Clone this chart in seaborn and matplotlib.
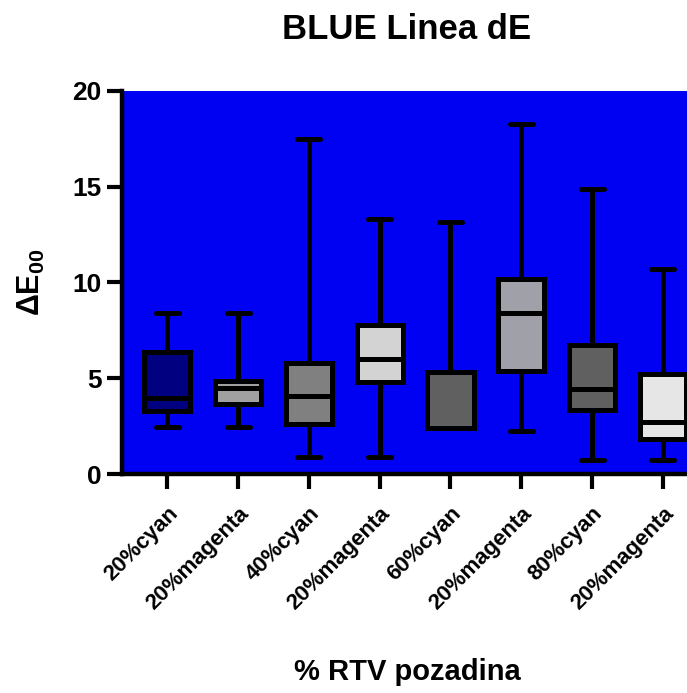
import pandas as pd
import matplotlib
matplotlib.use("Agg")
import matplotlib.pyplot as plt
import seaborn as sns

# five-number summaries (min, Q1, median, Q3, max)
groups = ["20%cyan", "20%magenta", "40%cyan", "20%magenta ", "60%cyan",
          "20%magenta  ", "80%cyan", "20%magenta   "]
mins = [2.45, 2.45, 0.89, 0.89, 2.42, 2.26, 0.73, 0.73]
q1s = [3.31, 3.64, 2.61, 4.82, 2.42, 5.40, 3.34, 1.83]
medians = [3.98, 4.47, 4.07, 6.02, 2.42, 8.38, 4.42, 2.73]
q3s = [6.36, 4.87, 5.81, 7.78, 5.34, 10.17, 6.72, 5.20]
maxs = [8.42, 8.42, 17.49, 13.30, 13.16, 18.28, 14.88, 10.72]
box_colors = ["#000080", "#a0a0a0", "#808080", "#d3d3d3",
              "#606060", "#a0a0a8", "#606060", "#e6e6e6"]

rows = []
for g, a, b, c, d, e in zip(groups, mins, q1s, medians, q3s, maxs):
    for v in (a, b, c, d, e):
        rows.append({"group": g, "dE": v})
df = pd.DataFrame(rows)

sns.set_style("ticks")
plt.rcParams["font.family"] = ["Liberation Sans", "DejaVu Sans"]
plt.rcParams["text.color"] = "black"
plt.rcParams["axes.labelcolor"] = "black"
plt.rcParams["xtick.color"] = "black"
plt.rcParams["ytick.color"] = "black"
plt.rcParams["mathtext.fontset"] = "custom"
plt.rcParams["mathtext.rm"] = "Liberation Sans:bold"
plt.rcParams["mathtext.default"] = "rm"

fig = plt.figure(figsize=(6.87, 6.93), dpi=100)
ax = fig.add_axes([0.178, 0.316, 0.822, 0.553])
ax.set_facecolor("#0000f2")

sns.boxplot(data=df, x="group", y="dE", hue="group", palette=box_colors,
            saturation=1, legend=False, whis=(0, 100), width=0.65,
            linewidth=3.6, linecolor="black", ax=ax)

ax.set_ylim(0, 20)
ax.set_xlim(-0.635, 7.34)
ax.set_yticks([0, 5, 10, 15, 20])
ax.set_xticks(range(len(groups)))
ax.set_xticklabels([g.strip() for g in groups], rotation=45, ha="right",
                   rotation_mode="anchor", fontsize=16, fontweight="bold")
for lab in ax.get_yticklabels():
    lab.set_fontsize(19)
    lab.set_fontweight("bold")
ax.tick_params(axis="both", length=11, width=3, color="black")
ax.tick_params(axis="x", pad=10)
ax.tick_params(axis="y", pad=4)

for side in ["top", "right"]:
    ax.spines[side].set_visible(False)
for side in ["left", "bottom"]:
    ax.spines[side].set_linewidth(3.2)
    ax.spines[side].set_color("black")

ax.set_ylabel(r"$\Delta E_{00}$", fontsize=22)
ax.yaxis.set_label_coords(-0.133, 0.5)
ax.set_xlabel("% RTV pozadina", fontsize=21, fontweight="bold")
ax.xaxis.set_label_coords(0.504, -0.48)
fig.text(0.592, 0.958, "BLUE Linea dE", ha="center", va="center",
         fontsize=25, fontweight="bold")

fig.savefig("out.png", dpi=100)
